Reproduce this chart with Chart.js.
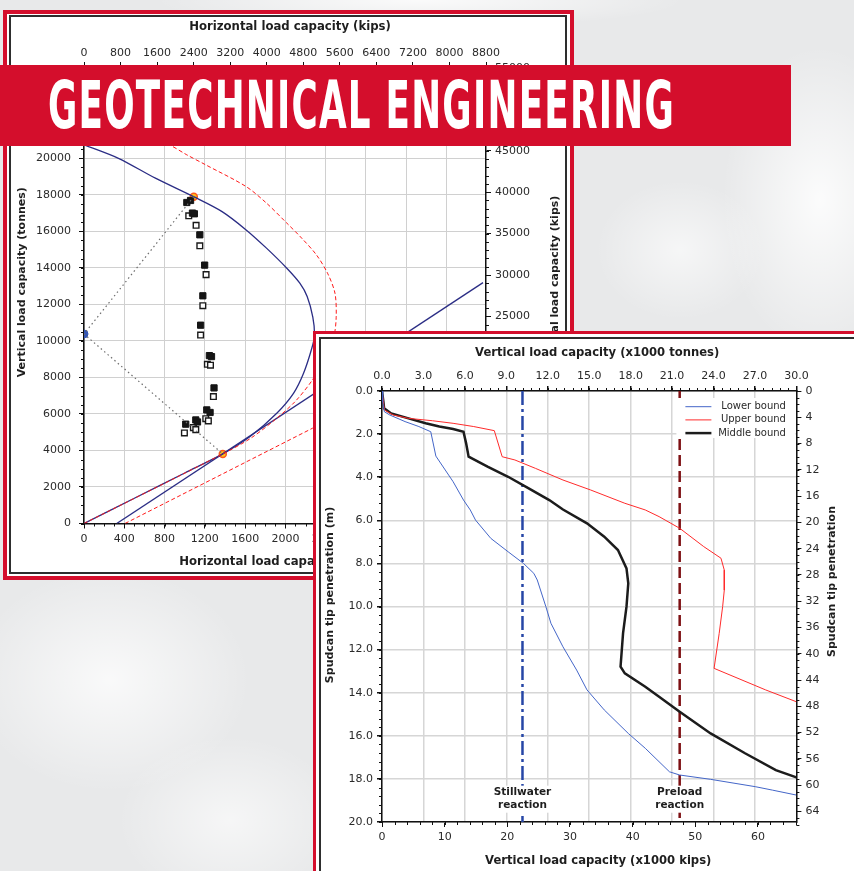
<!DOCTYPE html>
<html>
<head>
<meta charset="utf-8">
<script src="https://cdn.jsdelivr.net/npm/chart.js@4.4.1/dist/chart.umd.min.js"></script>
<style>
  html, body { margin: 0; padding: 0; }
  body {
    width: 854px; height: 871px; overflow: hidden; position: relative;
    font-family: 'DejaVu Sans', sans-serif;
    background:
      radial-gradient(ellipse 140px 220px at 820px 200px, rgba(255,255,255,0.85), rgba(255,255,255,0) 70%),
      radial-gradient(ellipse 380px 40px at 420px 0px, rgba(255,255,255,0.8), rgba(255,255,255,0) 70%),
      radial-gradient(ellipse 200px 160px at 110px 680px, rgba(255,255,255,0.75), rgba(255,255,255,0) 70%),
      radial-gradient(ellipse 160px 120px at 230px 820px, rgba(255,255,255,0.6), rgba(255,255,255,0) 70%),
      radial-gradient(ellipse 120px 100px at 680px 250px, rgba(255,255,255,0.6), rgba(255,255,255,0) 70%),
      #e8e9ea;
  }
  .frame { position: absolute; box-sizing: border-box; background: #fff; }
  #leftOuter { left: 3px; top: 10px; width: 571px; height: 570px; border: 4px solid #d40e2c; z-index: 1; }
  #leftInner { left: 9px; top: 15px; width: 558px; height: 559px; border: 2px solid #2e2e2e; z-index: 1; }
  #rightOuter { left: 313px; top: 331px; width: 600px; height: 600px; border: 3.5px solid #d40e2c; z-index: 2; }
  #rightInner { left: 319px; top: 337px; width: 600px; height: 600px; border: 2.5px solid #2e2e2e; z-index: 2; }
  canvas { position: absolute; }
  #capacityChart { left: 11px; top: 17px; z-index: 1; }
  #spudcanChart { left: 322px; top: 340px; z-index: 2; }
  #banner {
    position: absolute; left: 0; top: 65px; width: 791px; height: 81px;
    background: #d40e2c; z-index: 3; overflow: hidden;
  }
  #banner span {
    position: absolute; left: 48px; top: 8px;
    font-family: 'Liberation Sans Narrow', 'DejaVu Sans Condensed', sans-serif;
    font-weight: bold; font-size: 65px; line-height: 65px;
    color: #fff; white-space: nowrap; transform-origin: 0 0; letter-spacing: 2px;
  }
</style>
</head>
<body>
<div class="frame" id="leftOuter"></div>
<div class="frame" id="leftInner"></div>
<canvas id="capacityChart" width="554" height="555"></canvas>
<div id="banner"><span id="bannerText">GEOTECHNICAL ENGINEERING</span></div>
<div class="frame" id="rightOuter"></div>
<div class="frame" id="rightInner"></div>
<canvas id="spudcanChart" width="532" height="531"></canvas>
<script>
const KIPS_PER_TONNE = 2.20462;

// ---- chart 1: horizontal vs vertical load capacity (tonnes) ----
const hTonneTicks = [0, 400, 800, 1200, 1600, 2000, 2400, 2800, 3200, 3600];
const hKipTicks = [0, 800, 1600, 2400, 3200, 4000, 4800, 5600, 6400, 7200, 8000, 8800];
const vTonneTicks = [0, 2000, 4000, 6000, 8000, 10000, 12000, 14000, 16000, 18000, 20000, 22000, 24000];
const vKipTicks = [0, 5000, 10000, 15000, 20000, 25000, 30000, 35000, 40000, 45000, 50000, 55000];

const blueEnvelope = [[0, 0], [500, 1385], [1000, 2765], [1378, 3810], [1649, 4760], [1914, 6040],
  [2080, 7130], [2180, 8230], [2262, 9600], [2288, 10300], [2272, 11300], [2216, 12430], [2143, 13160],
  [2014, 13980], [1812, 15080], [1610, 16080], [1371, 17080], [1088, 17900], [709, 18910],
  [342, 20000], [0, 20740]];
const blueLine = [[325, 0], [3962, 13190]];
const redEnvelope = [[0, 0], [1378, 3810], [1650, 4650], [1900, 5700], [2100, 6700], [2268, 7860],
  [2400, 9100], [2480, 10200], [2504, 11300], [2492, 12610], [2418, 13710], [2308, 14710],
  [2161, 15630], [2014, 16450], [1812, 17545], [1610, 18450], [1209, 19640], [1021, 20190],
  [848, 20740], [450, 21700], [0, 22400]];
const redLine = [[407, 0], [2268, 5215], [3200, 7830]];
const guideLines = [[1090, 17900], [0, 10380], [1378, 3810]];
const originMark = [[0, 10380]];
const designMarks = [[1090, 17900], [1378, 3810]];
const filledSquares = [[1021, 17580], [1058, 17690], [1077, 17000], [1096, 16960], [1150, 15810],
  [1198, 14150], [1180, 12470], [1158, 10860], [1245, 9195], [1266, 9140], [1291, 7425],
  [1219, 6220], [1252, 6080], [1110, 5670], [1127, 5560], [1010, 5440]];
const openSquares = [[1040, 16850], [1113, 16330], [1150, 15210], [1212, 13630], [1180, 11930],
  [1158, 10320], [1225, 8720], [1256, 8670], [1285, 6950], [1209, 5740], [1235, 5620],
  [1086, 5250], [1110, 5140], [997, 4960]];

// ---- chart 2: spudcan load-penetration (x1000 tonnes vs m) ----
const loadTonneTicks = [0, 3, 6, 9, 12, 15, 18, 21, 24, 27, 30];
const loadKipTicks = [0, 10, 20, 30, 40, 50, 60];
const depthTicks = [0, 2, 4, 6, 8, 10, 12, 14, 16, 18, 20];
const depthFtTicks = [0, 4, 8, 12, 16, 20, 24, 28, 32, 36, 40, 44, 48, 52, 56, 60, 64];

const boundNames = ['Lower bound', 'Upper bound', 'Middle bound'];
const lowerBound = [[0, 0], [0.05, 0.5], [0.17, 0.96], [0.55, 1.11], [1.67, 1.42], [2.67, 1.65],
  [3.53, 1.89], [3.9, 3.02], [5.15, 4.21], [5.9, 5.06], [6.39, 5.52], [6.77, 5.99], [7.88, 6.84],
  [9.13, 7.46], [10.24, 8.0], [10.99, 8.46], [11.24, 8.77], [11.86, 10.0], [12.23, 10.78],
  [13.1, 11.87], [14.09, 12.95], [14.84, 13.87], [16.09, 14.8], [17.83, 15.89], [19.06, 16.58],
  [20.81, 17.67], [21.55, 17.82], [23.79, 18.02], [27.02, 18.36], [28.26, 18.52], [30, 18.75]];
const upperBound = [[0, 0], [0.1, 0.5], [0.17, 0.88], [0.8, 1.11], [1.92, 1.27], [3.66, 1.38],
  [5.15, 1.5], [6.64, 1.65], [8.13, 1.84], [8.7, 3.05], [9.62, 3.2], [11.11, 3.59], [13.1, 4.13],
  [15.09, 4.59], [17.58, 5.21], [19.06, 5.52], [20.06, 5.83], [21.55, 6.37], [23.29, 7.22],
  [24.54, 7.76], [24.78, 8.31], [24.78, 9.24], [24.66, 10.01], [24.41, 11.25], [24.04, 12.87],
  [27.77, 13.87], [30, 14.42]];
const middleBound = [[0, 0], [0.1, 0.5], [0.15, 0.8], [0.67, 1.04], [1.92, 1.27], [3.16, 1.5],
  [4.15, 1.65], [5.15, 1.76], [5.9, 1.89], [6.09, 2.43], [6.27, 3.05], [7.64, 3.51], [9.13, 3.98],
  [10.62, 4.52], [12.11, 5.06], [13.1, 5.5], [14.84, 6.14], [16.09, 6.76], [17.08, 7.38],
  [17.7, 8.23], [17.83, 8.92], [17.7, 10.01], [17.45, 11.25], [17.27, 12.79], [17.58, 13.1],
  [19.06, 13.72], [20.06, 14.19], [21.55, 14.88], [23.79, 15.89], [26.28, 16.81], [28.51, 17.59],
  [30, 17.93]];
const reactionNames = [['Stillwater', 'reaction'], ['Preload', 'reaction']];
const reactionLoads = [10.17, 21.55];

// ---------------------------------------------------------------
const pts = (arr) => arr.map(([x, y]) => ({ x, y }));
const fixTicks = (list) => (s) => { s.ticks = list.map((value) => ({ value })); };
const tickFont = { family: 'DejaVu Sans', size: 11 };

// short tick marks between the labelled ones
const minorTicks = (steps) => ({
  id: 'minorTicks',
  afterDraw(c) {
    const { ctx } = c;
    ctx.save();
    ctx.strokeStyle = '#111';
    ctx.lineWidth = 1;
    Object.keys(steps).forEach((id) => {
      const s = c.scales[id];
      const n = Math.round((s.max - s.min) / steps[id]);
      for (let i = 0; i <= n; i += 1) {
        const p = Math.round(s.getPixelForValue(s.min + i * steps[id])) + 0.5;
        ctx.beginPath();
        if (s.position === 'left') { ctx.moveTo(s.right, p); ctx.lineTo(s.right - 3, p); }
        if (s.position === 'right') { ctx.moveTo(s.left, p); ctx.lineTo(s.left + 3, p); }
        if (s.position === 'top') { ctx.moveTo(p, s.bottom); ctx.lineTo(p, s.bottom - 3); }
        if (s.position === 'bottom') { ctx.moveTo(p, s.top); ctx.lineTo(p, s.top + 3); }
        ctx.stroke();
      }
    });
    ctx.restore();
  },
});

// axis titles (right-hand ones read bottom-to-top like the left ones)
const axisTitles = (items) => ({
  id: 'axisTitles',
  afterDraw(c) {
    const { ctx, chartArea: a } = c;
    ctx.save();
    ctx.fillStyle = '#1e1e1e';
    ctx.textAlign = 'center';
    ctx.textBaseline = 'middle';
    items.forEach((t) => {
      ctx.font = `bold ${t.size}px "DejaVu Sans"`;
      if (t.side === 'top' || t.side === 'bottom') {
        ctx.fillText(t.text, (a.left + a.right) / 2 + t.shift, t.at);
      } else {
        ctx.save();
        ctx.translate(t.at, (a.top + a.bottom) / 2 + t.shift);
        ctx.rotate(-Math.PI / 2);
        ctx.fillText(t.text, 0, 0);
        ctx.restore();
      }
    });
    ctx.restore();
  },
});

const axis = (opts) => ({
  type: 'linear',
  border: { display: true, color: '#111', width: 1.5 },
  ...opts,
  ticks: {
    autoSkip: false, font: tickFont, color: '#2a2a2a', padding: 4,
    callback: (v) => String(v),
    ...(opts.ticks || {}),
  },
  grid: {
    tickLength: 5, tickColor: '#111', color: '#d0d0d0', lineWidth: 1, ...(opts.grid || {}),
  },
});

// ---- chart 1 ----
new Chart(document.getElementById('capacityChart'), {
  type: 'scatter',
  data: {
    datasets: [
      { data: pts(guideLines), showLine: true, borderColor: '#6d6d6d', borderWidth: 1.2, borderDash: [1.5, 3], pointRadius: 0 },
      { data: pts(redEnvelope), showLine: true, borderColor: '#ff1a1a', borderWidth: 1, borderDash: [4, 2.5], pointRadius: 0, tension: 0.3 },
      { data: pts(redLine), showLine: true, borderColor: '#ff1a1a', borderWidth: 1, borderDash: [4, 2.5], pointRadius: 0 },
      { data: pts(blueEnvelope), showLine: true, borderColor: '#2b2d85', borderWidth: 1.3, pointRadius: 0, tension: 0.3 },
      { data: pts(blueLine), showLine: true, borderColor: '#2b2d85', borderWidth: 1.3, pointRadius: 0 },
      { data: pts(filledSquares), pointStyle: 'rect', pointRadius: 4.4, backgroundColor: '#151515', borderColor: '#151515', borderWidth: 1 },
      { data: pts(openSquares), pointStyle: 'rect', pointRadius: 4, backgroundColor: '#ffffff', borderColor: '#1a1a1a', borderWidth: 1.4 },
      { data: pts(originMark), pointRadius: 4, backgroundColor: '#3557b5', borderColor: '#3557b5' },
      { data: pts(designMarks), pointRadius: 3.5, backgroundColor: '#ffc21a', borderColor: '#ff5a1a', borderWidth: 1.5 },
    ],
  },
  options: {
    responsive: false,
    animation: false,
    layout: { padding: 0 },
    plugins: { legend: { display: false }, tooltip: { enabled: false } },
    scales: {
      x: axis({
        position: 'bottom', min: 0, max: 8800 / KIPS_PER_TONNE,
        afterBuildTicks: fixTicks(hTonneTicks), afterFit: (s) => { s.height = 48.5; },
      }),
      xk: axis({
        position: 'top', min: 0, max: 8800,
        afterBuildTicks: fixTicks(hKipTicks), afterFit: (s) => { s.height = 50; },
        ticks: { padding: 2 },
        grid: { drawOnChartArea: false },
      }),
      y: axis({
        position: 'left', min: 0, max: 25000,
        afterBuildTicks: fixTicks(vTonneTicks), afterFit: (s) => { s.width = 73; },
        ticks: { padding: 8 },
      }),
      yk: axis({
        position: 'right', min: 0, max: 25000 * KIPS_PER_TONNE,
        afterBuildTicks: fixTicks(vKipTicks), afterFit: (s) => { s.width = 79; },
        grid: { drawOnChartArea: false },
      }),
    },
  },
  plugins: [
    minorTicks({ x: 100, y: 500, yk: 1000 }),
    axisTitles([
      { side: 'top', text: 'Horizontal load capacity (kips)', at: 9.7, shift: 5, size: 11.7 },
      { side: 'bottom', text: 'Horizontal load capacity (tonnes)', at: 545.3, shift: 4, size: 11.7 },
      { side: 'left', text: 'Vertical load capacity (tonnes)', at: 11, shift: -13, size: 11 },
      { side: 'right', text: 'Vertical load capacity (kips)', at: 544, shift: -13, size: 11 },
    ]),
  ],
});

// ---- chart 2 ----
const boundLegend = {
  id: 'boundLegend',
  afterDatasetsDraw(c) {
    const { ctx, chartArea: a } = c;
    const x0 = a.right - 120;
    const y0 = a.top + 7;
    ctx.save();
    ctx.fillStyle = '#fff';
    ctx.fillRect(x0, y0, 119, 40);
    ctx.font = '10px "DejaVu Sans"';
    ctx.textAlign = 'right';
    ctx.textBaseline = 'middle';
    c.data.datasets.slice(0, boundNames.length).forEach((ds, i) => {
      const yy = y0 + 8.7 + i * 13.2;
      ctx.strokeStyle = ds.borderColor;
      ctx.lineWidth = ds.borderWidth;
      ctx.beginPath();
      ctx.moveTo(x0 + 9, yy);
      ctx.lineTo(x0 + 35, yy);
      ctx.stroke();
      ctx.fillStyle = '#2a2a2a';
      ctx.fillText(ds.label, x0 + 109.5, yy);
    });
    ctx.restore();
  },
};

const reactionLabels = {
  id: 'reactionLabels',
  afterDatasetsDraw(c) {
    const { ctx } = c;
    const xs = c.scales.xt;
    const ys = c.scales.ym;
    ctx.save();
    ctx.font = 'bold 10.5px "DejaVu Sans"';
    ctx.textAlign = 'center';
    ctx.textBaseline = 'middle';
    reactionNames.forEach((lines, i) => {
      const cx = xs.getPixelForValue(reactionLoads[i]);
      const y1 = ys.getPixelForValue(18.64);
      const w = Math.max(...lines.map((l) => ctx.measureText(l).width));
      ctx.fillStyle = '#fff';
      ctx.fillRect(cx - w / 2 - 2, y1 - 7, w + 4, 27);
      ctx.fillStyle = '#1e1e1e';
      lines.forEach((l, k) => ctx.fillText(l, cx, y1 + k * 12.6));
    });
    ctx.restore();
  },
};

new Chart(document.getElementById('spudcanChart'), {
  type: 'scatter',
  data: {
    datasets: [
      { label: boundNames[0], data: pts(lowerBound), showLine: true, borderColor: '#4466c8', borderWidth: 1, pointRadius: 0, xAxisID: 'xt', yAxisID: 'ym' },
      { label: boundNames[1], data: pts(upperBound), showLine: true, borderColor: '#ff2b2b', borderWidth: 1, pointRadius: 0, xAxisID: 'xt', yAxisID: 'ym' },
      { label: boundNames[2], data: pts(middleBound), showLine: true, borderColor: '#1c1c1c', borderWidth: 2.5, pointRadius: 0, xAxisID: 'xt', yAxisID: 'ym' },
      { data: pts([[reactionLoads[0], 0], [reactionLoads[0], 20]]), showLine: true, borderColor: '#2646a6', borderWidth: 2.5, borderDash: [14, 4, 3, 4], pointRadius: 0, xAxisID: 'xt', yAxisID: 'ym' },
      { data: pts([[reactionLoads[1], 0], [reactionLoads[1], 20]]), showLine: true, borderColor: '#7d0f12', borderWidth: 2.5, borderDash: [11, 5], pointRadius: 0, xAxisID: 'xt', yAxisID: 'ym' },
    ],
  },
  options: {
    responsive: false,
    animation: false,
    layout: { padding: 0 },
    plugins: { legend: { display: false }, tooltip: { enabled: false } },
    scales: {
      xt: axis({
        position: 'top', min: 0, max: 30,
        afterBuildTicks: fixTicks(loadTonneTicks), afterFit: (s) => { s.height = 51; },
        ticks: { padding: 3, callback: (v) => v.toFixed(1) },
        grid: { color: '#d6d6d6', lineWidth: 1.5 },
      }),
      xk: axis({
        position: 'bottom', min: 0, max: 30 * KIPS_PER_TONNE,
        afterBuildTicks: fixTicks(loadKipTicks), afterFit: (s) => { s.height = 49; },
        grid: { drawOnChartArea: false },
      }),
      ym: axis({
        position: 'left', min: 0, max: 20, reverse: true,
        afterBuildTicks: fixTicks(depthTicks), afterFit: (s) => { s.width = 60; },
        ticks: { padding: 4, callback: (v) => v.toFixed(1) },
        grid: { color: '#d6d6d6', lineWidth: 1.5 },
      }),
      yf: axis({
        position: 'right', min: 0, max: 20 * 3.28084, reverse: true,
        afterBuildTicks: fixTicks(depthFtTicks), afterFit: (s) => { s.width = 57.6; },
        grid: { drawOnChartArea: false },
      }),
    },
  },
  plugins: [
    minorTicks({ xt: 0.6, xk: 2, ym: 0.4, yf: 1 }),
    boundLegend,
    reactionLabels,
    axisTitles([
      { side: 'top', text: 'Vertical load capacity (x1000 tonnes)', at: 13.3, shift: 8, size: 11.6 },
      { side: 'bottom', text: 'Vertical load capacity (x1000 kips)', at: 520.7, shift: 9, size: 11.6 },
      { side: 'left', text: 'Spudcan tip penetration (m)', at: 8, shift: -11.5, size: 11 },
      { side: 'right', text: 'Spudcan tip penetration', at: 510.5, shift: -25, size: 11 },
    ]),
  ],
});

// fit the banner lettering to its width
const bannerText = document.getElementById('bannerText');
bannerText.style.transform = `scaleX(${627 / bannerText.getBoundingClientRect().width})`;
</script>
</body>
</html>
